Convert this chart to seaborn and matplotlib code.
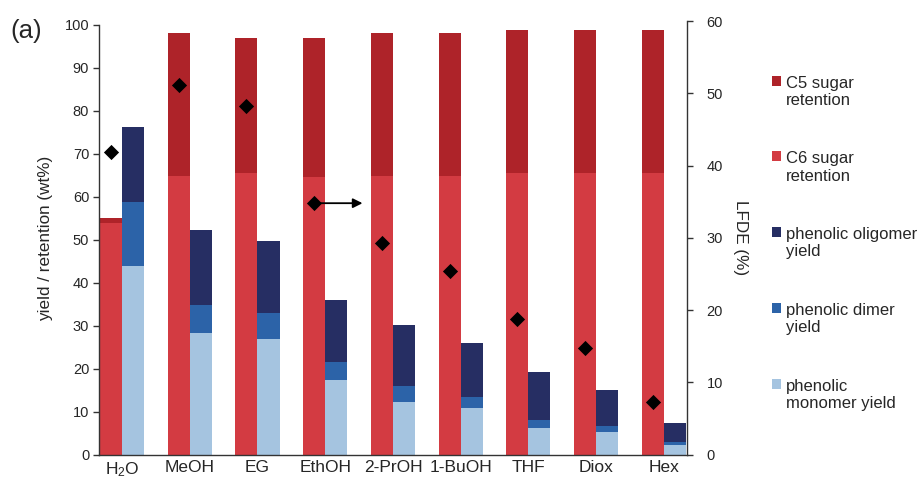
import numpy as np
import pandas as pd
import matplotlib
matplotlib.use("Agg")
import matplotlib.pyplot as plt
import seaborn as sns
from matplotlib.patches import Patch

solvents = ["H$_2$O", "MeOH", "EG", "EthOH", "2-PrOH", "1-BuOH", "THF", "Diox", "Hex"]
c6_sugar = [53.8, 64.9, 65.5, 64.7, 64.9, 64.9, 65.5, 65.5, 65.5]
c5_sugar = [1.2, 33.2, 31.4, 32.3, 33.2, 33.2, 33.3, 33.3, 33.3]
monomer = [44.0, 28.4, 27.0, 17.4, 12.2, 10.9, 6.3, 5.2, 2.3]
dimer = [14.9, 6.5, 5.9, 4.1, 3.7, 2.5, 1.8, 1.5, 0.7]
oligomer = [17.3, 17.3, 16.8, 14.4, 14.2, 12.6, 11.1, 8.3, 4.5]
lfde = [41.9, 51.2, 48.2, 34.8, 29.3, 25.4, 18.8, 14.8, 7.3]

legend_labels = ["C5 sugar\nretention", "C6 sugar\nretention", "phenolic oligomer\nyield",
                 "phenolic dimer\nyield", "phenolic\nmonomer yield"]
col_c5 = "#AE2329"
col_c6 = "#D33B42"
col_olig = "#262E63"
col_dim = "#2C63A8"
col_mono = "#A5C4E0"

sns.set_theme(style="white")
plt.rcParams["font.family"] = ["Liberation Sans", "DejaVu Sans"]
plt.rcParams["mathtext.fontset"] = "custom"
plt.rcParams["mathtext.rm"] = "Liberation Sans"
plt.rcParams["mathtext.it"] = "Liberation Sans"
plt.rcParams["mathtext.default"] = "regular"

c6 = np.array(c6_sugar)
c5 = np.array(c5_sugar)
mo = np.array(monomer)
di = np.array(dimer)
ol = np.array(oligomer)

layers = [
    ("sugar", c6 + c5, col_c5),
    ("sugar", c6, col_c6),
    ("phenolic", mo + di + ol, col_olig),
    ("phenolic", mo + di, col_dim),
    ("phenolic", mo, col_mono),
]

fig = plt.figure(figsize=(9.24, 4.82), dpi=100)
ax = fig.add_axes([0.1071, 0.0565, 0.6364, 0.8999])
hue_order = ["sugar", "phenolic"]
for grp, vals, col in layers:
    df = pd.DataFrame({"solvent": solvents, "value": vals, "group": grp})
    sns.barplot(data=df, x="solvent", y="value", hue="group", hue_order=hue_order,
                order=solvents, palette={"sugar": col, "phenolic": col},
                dodge=True, width=0.65, saturation=1, linewidth=0, errorbar=None,
                legend=False, ax=ax)

ax.set_xlim(-0.34, len(solvents) - 1 + 0.34)
ax.set_ylim(0, 100.9)
ax.set_yticks(np.arange(0, 101, 10))
ax.spines["left"].set_bounds(0, 100)
ax.spines["top"].set_visible(False)
ax.spines["right"].set_visible(False)
for s in ["left", "bottom"]:
    ax.spines[s].set_color("#333333")
    ax.spines[s].set_linewidth(1.0)
ax.tick_params(axis="y", direction="out", length=4, width=1, color="#333333",
               labelsize=10.5, left=True, pad=3)
ax.tick_params(axis="x", length=0, labelsize=12.5, pad=4)
ax.set_xlabel("")
ax.set_ylabel("yield / retention (wt%)", fontsize=12.3, labelpad=8)

ax2 = ax.twinx()
x_red = np.arange(len(solvents)) - 0.1625
sns.scatterplot(x=x_red, y=lfde, marker="D", s=60, color="black", edgecolor="black",
                linewidth=0, ax=ax2, zorder=5)
ax2.set_ylim(0, 60)
ax2.set_yticks(np.arange(0, 61, 10))
ax2.set_xlim(ax.get_xlim())
for s in ["left", "top", "bottom"]:
    ax2.spines[s].set_visible(False)
ax2.spines["right"].set_color("#333333")
ax2.spines["right"].set_linewidth(1.0)
ax2.tick_params(axis="y", direction="out", length=4, width=1, color="#333333",
                labelsize=10.5, right=True, pad=10)
ax2.set_ylabel("LFDE (%)", rotation=-90, fontsize=12.3, labelpad=18)

ax2.annotate("", xy=(3.55, lfde[3]), xytext=(x_red[3], lfde[3]),
             arrowprops=dict(arrowstyle="-|>", color="black", lw=1.3, mutation_scale=14,
                             shrinkA=0, shrinkB=0))

handles = [Patch(facecolor=c, edgecolor="none") for c in [col_c5, col_c6, col_olig, col_dim, col_mono]]
leg = fig.legend(handles, legend_labels, loc="upper left", bbox_to_anchor=(0.828, 0.857),
                 frameon=False, fontsize=12, handlelength=0.55, handleheight=0.55,
                 handletextpad=0.3, labelspacing=2.6, borderaxespad=0)
for col in leg._legend_handle_box.get_children():
    for hp in col.get_children():
        hp.align = "top"

fig.text(0.011, 0.922, "(a)", fontsize=18.5)

fig.savefig("out.png", dpi=100)
